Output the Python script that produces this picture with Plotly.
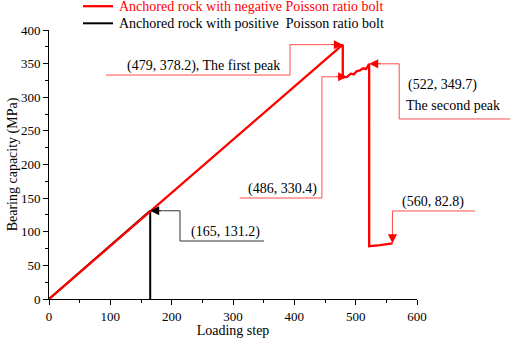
import plotly.graph_objects as go

# ---- data ----
neg_steps = [0, 479, 479, 486, 492, 497, 502, 507, 512, 517, 522, 522, 540, 560]
neg_capacity = [0, 378.2, 329.6, 330.4, 335, 334, 339, 340, 343, 342, 349.7, 78.5, 80.0, 82.8]
pos_steps = [0, 165, 165]
pos_capacity = [0, 131.2, 0]

neg_name = "Anchored rock with negative Poisson ratio bolt"
pos_name = "Anchored rock with positive  Poisson ratio bolt"

x_range = [0, 600]
y_range = [0, 400]
x_ticks = [0, 100, 200, 300, 400, 500, 600]
y_ticks = [0, 50, 100, 150, 200, 250, 300, 350, 400]

FONT = "Liberation Serif"
RED = "#ff0000"
RED_LIGHT = "#ff4d4d"
DARK = "#333333"

fig = go.Figure()
fig.add_trace(go.Scatter(x=pos_steps, y=pos_capacity, mode="lines", name=pos_name,
                         line=dict(color="black", width=2), showlegend=False))
fig.add_trace(go.Scatter(x=neg_steps, y=neg_capacity, mode="lines", name=neg_name,
                         line=dict(color=RED, width=2.3), showlegend=False))


def px(v):
    return (v - x_range[0]) / (x_range[1] - x_range[0])


def py(v):
    return (v - y_range[0]) / (y_range[1] - y_range[0])


def poly(points, color, width=1):
    d = "M " + " L ".join(f"{px(a)},{py(b)}" for a, b in points)
    fig.add_shape(type="path", path=d, xref="paper", yref="paper",
                  line=dict(color=color, width=width), layer="above")


def arrow(tip, tail, color):
    fig.add_annotation(x=tip[0], y=tip[1], ax=tail[0], ay=tail[1], xref="x", yref="y",
                       axref="x", ayref="y", text="", showarrow=True, arrowhead=2,
                       arrowsize=1.8, arrowwidth=1, arrowcolor=color, standoff=0)


def label(x, y, text, xanchor="center", yanchor="bottom", color="black"):
    fig.add_annotation(x=px(x), y=py(y), xref="paper", yref="paper", text=text,
                       showarrow=False, xanchor=xanchor, yanchor=yanchor,
                       font=dict(family=FONT, size=14, color=color))


# legend (drawn as line samples + text above the plot area)
for name, color, width, ly in [(neg_name, RED, 2.3, 1.0885), (pos_name, "black", 2, 1.0249)]:
    fig.add_shape(type="line", xref="paper", yref="paper", x0=0.0924, x1=0.1739,
                  y0=ly, y1=ly, line=dict(color=color, width=width))
    fig.add_annotation(x=0.1848, y=ly, xref="paper", yref="paper", text=name,
                       showarrow=False, xanchor="left", yanchor="middle",
                       font=dict(family=FONT, size=14, color=color))

# first peak
p1 = (neg_steps[1], neg_capacity[1])
poly([(93, 333), (393, 333), (393, p1[1]), (p1[0] - 20, p1[1])], RED_LIGHT)
arrow(p1, (p1[0] - 22, p1[1]), RED)
label(252, 332, "(479, 378.2), The first peak")

# trough after first peak
p2 = (neg_steps[3], neg_capacity[3])
poly([(311, 150.2), (445, 150.2), (445, p2[1]), (p2[0] - 20, p2[1])], RED_LIGHT)
arrow(p2, (p2[0] - 22, p2[1]), RED)
label(380, 149, "(486, 330.4)")

# second peak
p3 = (neg_steps[10], neg_capacity[10])
poly([(p3[0] + 20, p3[1]), (571, p3[1]), (571, 267.7), (752, 267.7)], RED_LIGHT)
arrow(p3, (p3[0] + 22, p3[1]), RED)
label(582, 318, "(522, 349.7)", xanchor="left", yanchor="middle")
label(579, 287, "The second peak", xanchor="left", yanchor="middle")

# end point
p4 = (neg_steps[-1], neg_capacity[-1])
poly([(694.6, 130.9), (p4[0], 130.9), (p4[0], p4[1] + 15)], RED_LIGHT)
arrow(p4, (p4[0], p4[1] + 17), RED)
label(626, 129.5, "(560, 82.8)")

# positive bolt peak
p5 = (pos_steps[1], pos_capacity[1])
poly([(p5[0] + 20, p5[1]), (213.6, p5[1]), (213.6, 86.2), (350.5, 86.2)], DARK)
arrow(p5, (p5[0] + 22, p5[1]), "black")
label(287, 85, "(165, 131.2)")

axis_common = dict(showline=True, linecolor="black", linewidth=1, ticks="outside",
                   ticklen=5, tickwidth=1, tickcolor="black", showgrid=False,
                   zeroline=False, automargin=False,
                   tickfont=dict(family=FONT, size=13, color="black"),
                   minor=dict(ticks="outside", ticklen=3, tickcolor="black", tickwidth=1))

fig.update_xaxes(range=x_range, tickvals=x_ticks,
                 title=dict(text="Loading step", font=dict(family=FONT, size=14, color="black"),
                            standoff=2),
                 **axis_common)
fig.update_xaxes(minor=dict(dtick=50))
fig.update_yaxes(range=y_range, tickvals=y_ticks,
                 title=dict(text="Bearing capacity (MPa)", font=dict(family=FONT, size=14, color="black"),
                            standoff=0),
                 **axis_common)
fig.update_yaxes(minor=dict(dtick=25))

fig.update_layout(
    width=512, height=338,
    margin=dict(l=49, r=95, t=30, b=39, autoexpand=False),
    paper_bgcolor="white", plot_bgcolor="white",
    font=dict(family=FONT, size=14, color="black"),
    showlegend=False,
)

fig.write_html("out.html", config={"displayModeBar": False},
               post_script="document.body.style.margin='0px';document.body.style.overflow='hidden';")
